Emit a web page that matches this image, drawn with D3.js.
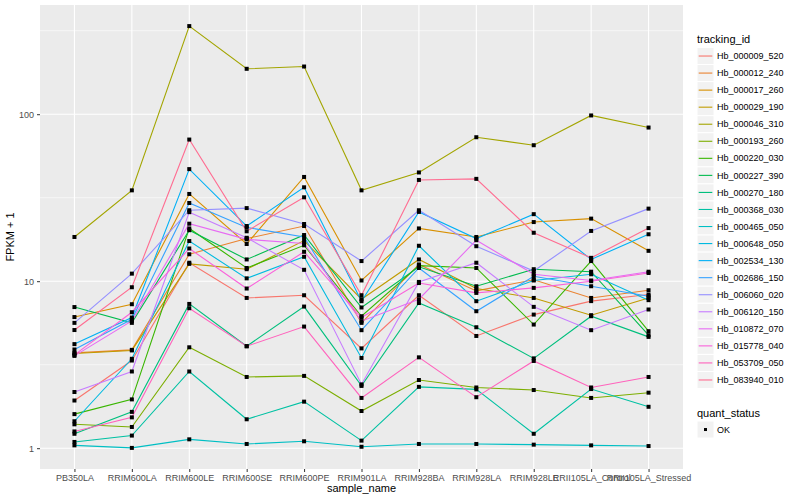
<!DOCTYPE html>
<html>
<head>
<meta charset="utf-8">
<script src="https://cdn.jsdelivr.net/npm/d3@7"></script>
<style>
  body { margin: 0; background: #fff; }
  text { font-family: "Liberation Sans", Arial, Helvetica, sans-serif; }
</style>
</head>
<body>
<svg id="chart" width="800" height="500"></svg>
<script>
// categories on the x axis
const sampleNames = ['PB350LA', 'RRIM600LA', 'RRIM600LE', 'RRIM600SE', 'RRIM600PE', 'RRIM901LA',
  'RRIM928BA', 'RRIM928LA', 'RRIM928LE', 'RRII105LA_Control', 'RRII105LA_Stressed'];

const trackingIds = ['Hb_000009_520', 'Hb_000012_240', 'Hb_000017_260', 'Hb_000029_190', 'Hb_000046_310',
  'Hb_000193_260', 'Hb_000220_030', 'Hb_000227_390', 'Hb_000270_180', 'Hb_000368_030', 'Hb_000465_050',
  'Hb_000648_050', 'Hb_002534_130', 'Hb_002686_150', 'Hb_006060_020', 'Hb_006120_150', 'Hb_010872_070',
  'Hb_015778_040', 'Hb_053709_050', 'Hb_083940_010'];

// ggplot default hue palette for 20 levels
const hueColors = ['#F8766D', '#EA8331', '#D89000', '#C09B00', '#A3A500', '#7CAE00', '#39B600', '#00BB4E',
  '#00BF7D', '#00C1A3', '#00BFC4', '#00BAE0', '#00B0F6', '#35A2FF', '#9590FF', '#C77CFF', '#E76BF3',
  '#FA62DB', '#FF62BC', '#FF6C91'];

// FPKM + 1, one array per tracking_id
const hb000009 = [1.93, 3.35, 12.9, 7.94, 8.24, 3.96, 8.24, 4.7, 6.31, 7.6, 8.32];
const hb000012 = [3.72, 3.88, 14.5, 18.0, 21.4, 5.63, 12.6, 8.75, 10.2, 7.94, 8.83];
const hb000017 = [6.1, 7.28, 33.3, 16.7, 42.1, 10.1, 20.7, 18.4, 22.6, 23.7, 15.2];
const hb000029 = [3.69, 3.85, 12.7, 11.8, 17.5, 7.8, 13.5, 9.04, 7.94, 6.26, 7.94];
const hb000046 = [18.4, 35, 337, 187, 193, 35, 44.8, 72.8, 65.2, 98.3, 83.2];
const hb000193 = [1.39, 1.34, 4.02, 2.67, 2.71, 1.67, 2.56, 2.31, 2.23, 2.0, 2.15];
const hb000220 = [1.6, 1.96, 20.7, 12.0, 16.4, 6.17, 12.4, 12.0, 5.5, 13.2, 5.02];
const hb000227 = [7.0, 5.63, 20.2, 13.5, 18.9, 6.96, 12.2, 9.33, 11.8, 11.4, 4.75];
const hb000270 = [1.22, 1.65, 7.31, 4.08, 7.05, 2.36, 7.4, 5.3, 3.45, 6.17, 4.64];
const hb000368 = [1.09, 1.19, 2.88, 1.49, 1.9, 1.11, 2.33, 2.25, 1.22, 2.26, 1.77];
const hb000465 = [1.04, 1.004, 1.13, 1.06, 1.1, 1.02, 1.06, 1.06, 1.05, 1.04, 1.03];
const hb000648 = [1.45, 3.43, 17.4, 10.4, 14.0, 3.47, 16.3, 7.59, 10.1, 11.0, 7.7];
const hb002534 = [4.2, 6.06, 46.9, 21.4, 36.5, 7.59, 26.0, 18.0, 25.2, 13.5, 19.1];
const hb002686 = [3.9, 5.92, 29.4, 21.0, 18.4, 5.09, 12.0, 6.61, 10.7, 9.33, 8.13];
const hb006060 = [5.63, 11.1, 26.6, 27.4, 22.0, 13.2, 26.6, 16.2, 11.5, 20.0, 27.2];
const hb006120 = [2.17, 2.88, 25.9, 18.2, 11.7, 2.41, 9.9, 12.9, 7.02, 5.09, 6.77];
const hb010872 = [3.57, 5.78, 22.1, 17.8, 16.8, 5.76, 7.8, 17.6, 11.0, 10.1, 11.4];
const hb015778 = [3.62, 6.52, 15.7, 9.04, 15.0, 6.06, 9.75, 8.51, 9.12, 10.0, 11.2];
const hb053709 = [1.26, 1.53, 6.89, 4.08, 5.35, 2.0, 3.5, 2.02, 3.33, 2.31, 2.67];
const hb083940 = [5.1, 9.2, 70.5, 19.9, 31.8, 8.24, 40.4, 41, 19.5, 13.8, 20.8];

const seriesValues = [hb000009, hb000012, hb000017, hb000029, hb000046, hb000193, hb000220, hb000227,
  hb000270, hb000368, hb000465, hb000648, hb002534, hb002686, hb006060, hb006120, hb010872,
  hb015778, hb053709, hb083940];

const yTickValues = [1, 10, 100];
const yMinorValues = [Math.pow(10, 0.5), Math.pow(10, 1.5), Math.pow(10, 2.5)];

(function (d3) {
  const svg = d3.select('#chart');
  const panel = {left: 40, right: 683, top: 5, bottom: 469};

  const series = trackingIds.map((id, i) => ({
    id: id,
    color: hueColors[i],
    points: seriesValues[i].map((v, j) => ({sample: sampleNames[j], value: v}))
  }));

  const x = d3.scalePoint()
    .domain(sampleNames)
    .range([panel.left, panel.right])
    .padding(0.6);

  // log10 scale with 5% expansion like ggplot
  const allVals = seriesValues.flat();
  const lmin = Math.log10(d3.min(allVals)), lmax = Math.log10(d3.max(allVals));
  const pad = (lmax - lmin) * 0.05;
  const y = d3.scaleLog()
    .domain([Math.pow(10, lmin - pad), Math.pow(10, lmax + pad)])
    .range([panel.bottom, panel.top]);

  // panel background
  svg.append('rect')
    .attr('x', panel.left).attr('y', panel.top)
    .attr('width', panel.right - panel.left).attr('height', panel.bottom - panel.top)
    .attr('fill', '#EBEBEB');

  const grid = svg.append('g');
  grid.selectAll('line.minor').data(yMinorValues).join('line')
    .attr('x1', panel.left).attr('x2', panel.right)
    .attr('y1', d => y(d)).attr('y2', d => y(d))
    .attr('stroke', '#fff').attr('stroke-width', 0.55);
  grid.selectAll('line.majy').data(yTickValues).join('line')
    .attr('x1', panel.left).attr('x2', panel.right)
    .attr('y1', d => y(d)).attr('y2', d => y(d))
    .attr('stroke', '#fff').attr('stroke-width', 1.1);
  grid.selectAll('line.majx').data(sampleNames).join('line')
    .attr('y1', panel.top).attr('y2', panel.bottom)
    .attr('x1', d => x(d)).attr('x2', d => x(d))
    .attr('stroke', '#fff').attr('stroke-width', 1.1);

  // lines
  const line = d3.line()
    .x(d => x(d.sample))
    .y(d => y(d.value));

  svg.append('g').selectAll('path').data(series).join('path')
    .attr('d', d => line(d.points))
    .attr('fill', 'none')
    .attr('stroke', d => d.color)
    .attr('stroke-width', 1.1);

  // points
  svg.append('g').selectAll('g').data(series).join('g')
    .selectAll('rect').data(d => d.points).join('rect')
    .attr('x', d => x(d.sample) - 2)
    .attr('y', d => y(d.value) - 2)
    .attr('width', 4).attr('height', 4)
    .attr('fill', '#000');

  // axes
  const xAxis = svg.append('g')
    .attr('transform', 'translate(0,' + panel.bottom + ')')
    .call(d3.axisBottom(x).tickSize(3).tickPadding(3));
  const yAxis = svg.append('g')
    .attr('transform', 'translate(' + panel.left + ',0)')
    .call(d3.axisLeft(y).tickValues(yTickValues).tickFormat(d3.format('d')).tickSize(3).tickPadding(3));

  [xAxis, yAxis].forEach(a => {
    a.select('.domain').remove();
    a.selectAll('.tick line').attr('stroke', '#333333').attr('stroke-width', 1);
    a.selectAll('.tick text').attr('fill', '#4D4D4D').style('font-size', '9px');
  });

  svg.append('text')
    .attr('x', (panel.left + panel.right) / 2).attr('y', 492)
    .attr('text-anchor', 'middle')
    .style('font-size', '11px')
    .text('sample_name');

  svg.append('text')
    .attr('transform', 'translate(14,' + ((panel.top + panel.bottom) / 2) + ') rotate(-90)')
    .attr('text-anchor', 'middle')
    .style('font-size', '11px')
    .text('FPKM + 1');

  // legend: tracking_id
  const legX = 697, keyW = 17, keyH = 17.05, keyTop = 47.5;
  svg.append('text')
    .attr('x', legX).attr('y', 43)
    .style('font-size', '11px')
    .text('tracking_id');

  const keys = svg.append('g').selectAll('g').data(series).join('g')
    .attr('transform', (d, i) => 'translate(' + legX + ',' + (keyTop + i * keyH) + ')');
  keys.append('rect')
    .attr('width', keyW).attr('height', keyH)
    .attr('fill', '#F2F2F2').attr('stroke', '#fff').attr('stroke-width', 1);
  keys.append('line')
    .attr('x1', 1.7).attr('x2', keyW - 1.7)
    .attr('y1', keyH / 2).attr('y2', keyH / 2)
    .attr('stroke', d => d.color).attr('stroke-width', 1.1);
  keys.append('text')
    .attr('x', keyW + 3).attr('y', keyH / 2)
    .attr('dy', '0.35em')
    .style('font-size', '9px')
    .text(d => d.id);

  // legend: quant_status
  svg.append('text')
    .attr('x', legX).attr('y', 417)
    .style('font-size', '11px')
    .text('quant_status');
  const qk = svg.append('g').attr('transform', 'translate(' + legX + ',421)');
  qk.append('rect')
    .attr('width', keyW).attr('height', keyH)
    .attr('fill', '#F2F2F2').attr('stroke', '#fff');
  qk.append('rect')
    .attr('x', keyW / 2 - 1.5).attr('y', keyH / 2 - 1.5)
    .attr('width', 3).attr('height', 3)
    .attr('fill', '#000');
  qk.append('text')
    .attr('x', keyW + 3).attr('y', keyH / 2)
    .attr('dy', '0.35em')
    .style('font-size', '9px')
    .text('OK');
})(d3);
</script>
</body>
</html>
